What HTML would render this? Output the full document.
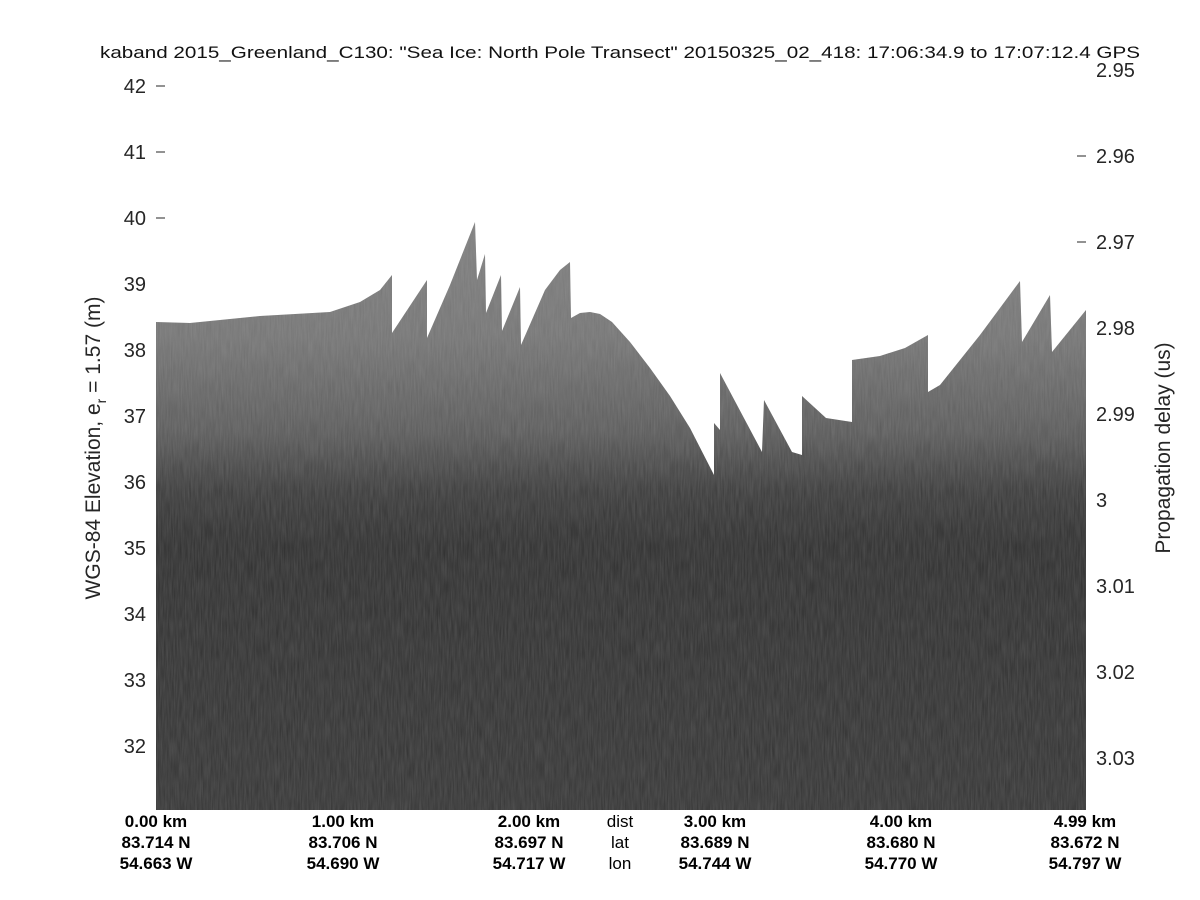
<!DOCTYPE html>
<html><head><meta charset="utf-8"><style>
html,body{margin:0;padding:0;background:#fff;}
svg{display:block;font-family:"Liberation Sans",sans-serif;}
</style></head><body>
<svg width="1200" height="900" viewBox="0 0 1200 900" xmlns="http://www.w3.org/2000/svg">
<defs>
<linearGradient id="gr" gradientUnits="userSpaceOnUse" x1="0" y1="220" x2="0" y2="810">
<stop offset="0" stop-color="#7e7e7e"/>
<stop offset="0.2" stop-color="#747474"/>
<stop offset="0.36" stop-color="#5a5a5a"/>
<stop offset="0.46" stop-color="#3a3a3a"/>
<stop offset="0.55" stop-color="#2e2e2e"/>
<stop offset="1" stop-color="#343434"/>
</linearGradient>
<filter id="n" x="0" y="0" width="100%" height="100%">
<feTurbulence type="fractalNoise" baseFrequency="0.7 0.05" numOctaves="2" seed="3"/>
<feColorMatrix type="matrix" values="0 0 0 0 0.55  0 0 0 0 0.55  0 0 0 0 0.55  0 0 0 0.22 0"/>
</filter>
<clipPath id="c"><path d="M156,322 L190,323 L260,316 L330,312 L360,302 L380,290 L392,275 L392,333 L427,280 L427,338 L450,285 L475,222 L477,280 L485,254 L486,313 L501,275 L502,331 L520,287 L521,345 L545,290 L560,270 L570,262 L571,318 L580,313 L590,312 L600,314 L612,322 L630,342 L650,368 L670,396 L690,428 L714,475 L714,423 L720,430 L720,373 L762,452 L764,400 L792,452 L802,455 L802,396 L826,418 L852,422 L852,360 L880,356 L905,348 L928,335 L928,392 L940,385 L980,335 L1020,281 L1022,342 L1050,295 L1052,352 L1086,310 L1086,810 L156,810 Z"/></clipPath>
</defs>
<g clip-path="url(#c)">
<rect x="156" y="200" width="930" height="610" fill="url(#gr)"/>
<rect x="156" y="200" width="930" height="610" filter="url(#n)"/>
</g>
<g font-size="20" fill="#262626">
<g text-anchor="end">
<text x="146" y="93">42</text><text x="146" y="159">41</text><text x="146" y="225">40</text><text x="146" y="291">39</text>
<text x="146" y="357">38</text><text x="146" y="423">37</text><text x="146" y="489">36</text><text x="146" y="555">35</text>
<text x="146" y="621">34</text><text x="146" y="687">33</text><text x="146" y="753">32</text>
</g>
<g text-anchor="start">
<text x="1096" y="77">2.95</text><text x="1096" y="163">2.96</text><text x="1096" y="249">2.97</text><text x="1096" y="335">2.98</text>
<text x="1096" y="421">2.99</text><text x="1096" y="507">3</text><text x="1096" y="593">3.01</text><text x="1096" y="679">3.02</text><text x="1096" y="765">3.03</text>
</g>
</g>
<g stroke="#262626" stroke-width="1">
<line x1="156" y1="86" x2="165" y2="86"/><line x1="156" y1="152" x2="165" y2="152"/><line x1="156" y1="218" x2="165" y2="218"/>
<line x1="1077" y1="156" x2="1086" y2="156"/><line x1="1077" y1="242" x2="1086" y2="242"/>
</g>
<text x="100" y="58" font-size="17" textLength="1040" lengthAdjust="spacingAndGlyphs" fill="#111">kaband 2015_Greenland_C130: "Sea Ice: North Pole Transect"  20150325_02_418: 17:06:34.9 to 17:07:12.4 GPS</text>
<text transform="translate(100,448) rotate(-90)" font-size="21" text-anchor="middle" fill="#262626">WGS-84 Elevation, e<tspan font-size="14" dy="6">r</tspan><tspan dy="-6"> = 1.57 (m)</tspan></text>
<text transform="translate(1170,448) rotate(-90)" font-size="21" text-anchor="middle" fill="#262626">Propagation delay (us)</text>
<g font-size="17" font-weight="bold" text-anchor="middle" fill="#000">
<text x="156" y="827">0.00 km</text><text x="156" y="848">83.714 N</text><text x="156" y="869">54.663 W</text>
<text x="343" y="827">1.00 km</text><text x="343" y="848">83.706 N</text><text x="343" y="869">54.690 W</text>
<text x="529" y="827">2.00 km</text><text x="529" y="848">83.697 N</text><text x="529" y="869">54.717 W</text>
<text x="620" y="827" font-weight="normal">dist</text><text x="620" y="848" font-weight="normal">lat</text><text x="620" y="869" font-weight="normal">lon</text>
<text x="715" y="827">3.00 km</text><text x="715" y="848">83.689 N</text><text x="715" y="869">54.744 W</text>
<text x="901" y="827">4.00 km</text><text x="901" y="848">83.680 N</text><text x="901" y="869">54.770 W</text>
<text x="1085" y="827">4.99 km</text><text x="1085" y="848">83.672 N</text><text x="1085" y="869">54.797 W</text>
</g>
</svg>
</body></html>
